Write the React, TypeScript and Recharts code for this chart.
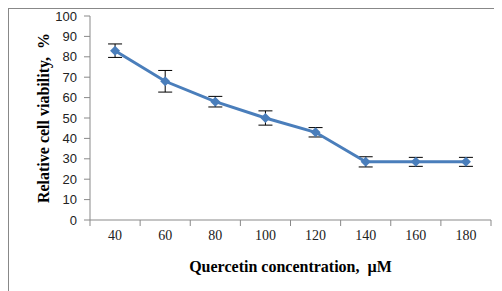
import React from "react";
import { LineChart, Line, XAxis, YAxis, ErrorBar, Label } from "recharts";

const concentrations = ["40", "60", "80", "100", "120", "140", "160", "180"];
const viability = [83, 68, 58, 50, 43, 28.5, 28.5, 28.5];
const errors = [3.3, 5.3, 2.6, 3.5, 2.3, 2.5, 2.2, 2.2];
const yTicks = [0, 10, 20, 30, 40, 50, 60, 70, 80, 90, 100];

const data = concentrations.map((c, i) => ({
  pos: i + 0.5,
  conc: c,
  viability: viability[i],
  err: errors[i],
}));
const boundaries = concentrations.map((_, i) => i).concat(concentrations.length);

const AXIS = "#898989";
const BLUE = "#4a7ebb";
const HALF_STEP = 25;

const XTick = (props: any) => {
  const { x, y, payload } = props;
  const label = concentrations[payload.value];
  if (!label) return null;
  return (
    <text
      x={x + HALF_STEP}
      y={y}
      dy={10}
      textAnchor="middle"
      fontFamily="Liberation Serif"
      fontSize={14}
      fill="#222"
    >
      {label}
    </text>
  );
};

const Diamond = (props: any) => {
  const { cx, cy } = props;
  if (cx == null || cy == null) return null;
  const r = 5;
  return (
    <polygon
      points={`${cx},${cy - r} ${cx + r},${cy} ${cx},${cy + r} ${cx - r},${cy}`}
      fill={BLUE}
    />
  );
};

const YTitle = () => (
  <text
    x={35}
    y={110}
    transform="rotate(-90, 35, 110)"
    textAnchor="middle"
    dominantBaseline="central"
    fontFamily="Liberation Serif"
    fontWeight="bold"
    fontSize={16}
    fill="#000"
  >
    {"Relative cell viability,\u00a0\u00a0%"}
  </text>
);

export default function App() {
  return (
    <div style={{ position: "relative", width: 494, height: 283 }}>
      <div
        style={{
          position: "absolute",
          left: 0,
          top: 0,
          width: 494,
          height: 283,
          borderTop: "1px solid #888",
          borderLeft: "1px solid #888",
          boxSizing: "border-box",
          pointerEvents: "none",
        }}
      />
      <LineChart
        width={494}
        height={283}
        data={data}
        margin={{ top: 8, right: 11, left: 0, bottom: 11 }}
      >
        <XAxis
          type="number"
          dataKey="pos"
          domain={[0, concentrations.length]}
          ticks={boundaries}
          interval={0}
          height={60}
          tick={<XTick />}
          tickSize={6}
          tickMargin={4}
          axisLine={{ stroke: AXIS }}
          tickLine={{ stroke: AXIS }}
        >
          <Label
            value={"Quercetin concentration,\u00a0\u00a0µM"}
            position="insideBottom"
            offset={8}
            fontFamily="Liberation Serif"
            fontWeight="bold"
            fontSize={16}
            fill="#000"
          />
        </XAxis>
        <YAxis
          width={82}
          domain={[0, 100]}
          ticks={yTicks}
          interval={0}
          tickSize={6}
          tickMargin={7}
          axisLine={{ stroke: AXIS }}
          tickLine={{ stroke: AXIS }}
          tick={{ fontFamily: "Liberation Sans", fontSize: 13, fill: "#222" }}
        >
          <Label content={<YTitle />} />
        </YAxis>
        <Line
          type="linear"
          dataKey="viability"
          stroke={BLUE}
          strokeWidth={3}
          dot={<Diamond />}
          activeDot={false}
          isAnimationActive={false}
        >
          <ErrorBar dataKey="err" width={7} stroke="#000" strokeWidth={1} direction="y" />
        </Line>
      </LineChart>
    </div>
  );
}
